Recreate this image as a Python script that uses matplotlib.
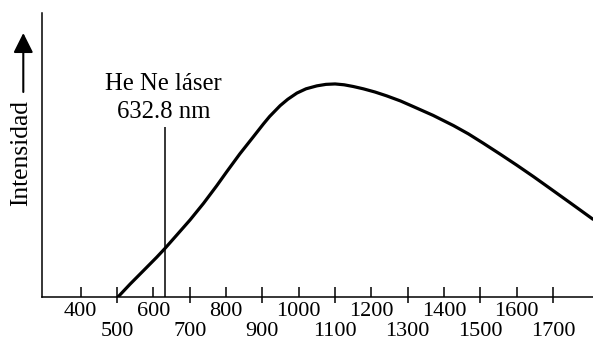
import matplotlib
matplotlib.use("Agg")
import matplotlib.pyplot as plt
from matplotlib.patches import FancyArrowPatch

# Emission spectrum (relative intensity vs. wavelength in nm)
wavelength = [503, 536, 572, 609, 632, 664, 701, 738, 774, 802, 838, 875,
              903, 920, 949, 970, 995, 1020, 1050, 1075, 1100, 1125, 1150,
              1178, 1210, 1242, 1280, 1316, 1370, 1426, 1467, 1508, 1555,
              1600, 1646, 1692, 1750, 1810]
intensity = [0, 6.0, 12.2, 18.6, 22.8, 29.0, 36.2, 44.0, 52.2, 58.9, 67.3,
             75.3, 81.4, 84.9, 90.0, 93.0, 95.9, 97.9, 99.3, 100.0, 100.2,
             99.8, 99.0, 97.9, 96.4, 94.6, 92.2, 89.5, 85.4, 80.6, 76.7, 72.3,
             67.1, 62.0, 56.6, 51.0, 43.9, 36.5]

laser_wavelength = 632.8
laser_height = 80.1
laser_label = ["He Ne láser", "632.8 nm"]

upper_ticks = [400, 600, 800, 1000, 1200, 1400, 1600]
lower_ticks = [500, 700, 900, 1100, 1300, 1500, 1700]
ylabel = "Intensidad"

plt.rcParams["font.family"] = ["Liberation Serif", "DejaVu Serif"]
TICK_FS = 16
LW = 1.1

fig = plt.figure(figsize=(5.93, 3.40), dpi=100)
ax = fig.add_axes([0.0703, 0.127, 0.9297, 0.8348])

ax.plot(wavelength, intensity, color="black", lw=2.3,
        solid_joinstyle="round", solid_capstyle="round")
ax.vlines(laser_wavelength, 0, laser_height, color="black", lw=1.1)
ax.text(628, 97.5, laser_label[0], ha="center", va="baseline", fontsize=17.8)
ax.text(628, 84.1, laser_label[1], ha="center", va="baseline", fontsize=17.8)

ax.set_xlim(292.6, 1810)
ax.set_ylim(0, 133.6)

for side in ("top", "right"):
    ax.spines[side].set_visible(False)
for side in ("left", "bottom"):
    ax.spines[side].set_linewidth(LW)

ax.set_yticks([])

# staggered tick labels: even hundreds on the first row, odd on the second
ax.set_xticks(upper_ticks)
ax.set_xticklabels([str(t) for t in upper_ticks])
ax.set_xticks(lower_ticks, minor=True)
ax.set_xticklabels([str(t) for t in lower_ticks], minor=True)
ax.tick_params(axis="x", which="major", direction="in", length=7.2, width=LW,
               pad=3.4, labelsize=TICK_FS)
ax.tick_params(axis="x", which="minor", direction="in", length=7.2, width=LW,
               pad=18, labelsize=TICK_FS)

# odd-hundred ticks also extend below the axis
sec = ax.secondary_xaxis("bottom")
sec.set_xticks(lower_ticks)
sec.set_xticklabels([])
sec.tick_params(axis="x", direction="out", length=4.3, width=LW)
sec.spines["bottom"].set_visible(False)

# vertical axis title with an upward arrow
fig.text(21 / 593, 1 - 153.5 / 340, ylabel, rotation=90, ha="center",
         va="center", fontsize=18.4)
fig.patches.append(FancyArrowPatch(
    (23.3 / 593, 1 - 92 / 340), (23.3 / 593, 1 - 33 / 340),
    transform=fig.transFigure, arrowstyle="-|>,head_length=0.6,head_width=0.3",
    mutation_scale=20, color="black", lw=1.5, shrinkA=0, shrinkB=0))

fig.savefig("out.png", dpi=100)
